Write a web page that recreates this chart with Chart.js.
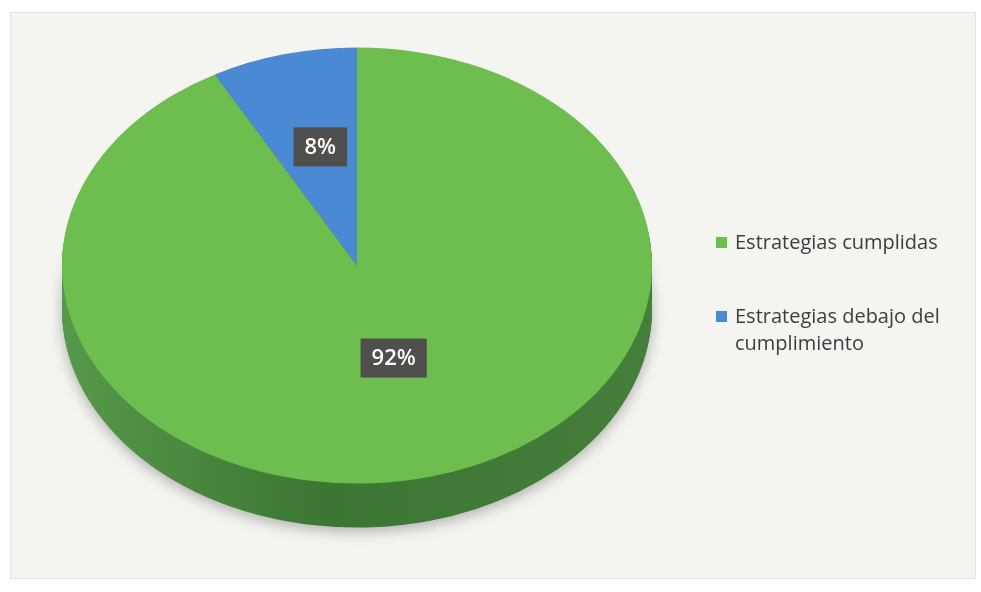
<!DOCTYPE html>
<html>
<head>
<meta charset="utf-8">
<script src="https://cdn.jsdelivr.net/npm/chart.js@4.4.1/dist/chart.umd.min.js"></script>
<style>
  body { margin: 0; background: #fff; width: 981px; height: 592px; overflow: hidden; font-family: "Open Sans", sans-serif; }
  #card { position: absolute; left: 10px; top: 12px; width: 964px; height: 565px; background: #f4f4f1; border: 1px solid #e4e4e0; }
  #myChartEstrategias { position: absolute; left: 0; top: 0; }
  #legend { position: absolute; left: 716px; top: 228px; width: 260px; color: #3d3d3d; font-size: 20px; line-height: 27px; }
  .item { position: relative; padding-left: 19px; width: 240px; margin-bottom: 47px; }
  .box { position: absolute; left: 0; top: 9px; width: 11px; height: 11px; }
</style>
</head>
<body>
<div id="card"></div>
<canvas id="myChartEstrategias" width="981" height="592"></canvas>
<div id="legend"></div>
<script>
const categories = ['Estrategias cumplidas', 'Estrategias debajo del cumplimiento']
const percentages = [92, 8]
const sliceColors = ['#6dbd4f', '#4a8ad4']

// the pie is drawn as a flattened, tilted disc
const STRETCH_X = 295 / 218
const DEPTH = 44

const pie3d = {
    id: 'pie3d',
    beforeDatasetsDraw(chart) {
        const ctx = chart.ctx
        const arcs = chart.getDatasetMeta(0).data
        const cx = arcs[0].x, cy = arcs[0].y
        ctx.save()
        ctx.translate(cx, cy)
        ctx.scale(STRETCH_X, 1)
        ctx.translate(-cx, -cy)

        const r = arcs[0].outerRadius
        const side = ctx.createLinearGradient(cx - r, 0, cx + r, 0)
        side.addColorStop(0, '#57994a')
        side.addColorStop(0.45, '#3b7632')
        side.addColorStop(1, '#467f3b')

        for (let d = DEPTH; d >= 1; d--) {
            ctx.save()
            ctx.translate(0, d)
            if (d == DEPTH) {
                ctx.shadowColor = 'rgba(0,0,0,0.28)'
                ctx.shadowBlur = 14
                ctx.shadowOffsetY = 4
            }
            arcs.forEach(arc => {
                const old = arc.options.backgroundColor
                arc.options.backgroundColor = side
                arc.draw(ctx)
                arc.options.backgroundColor = old
            })
            ctx.restore()
        }
    },
    afterDatasetsDraw(chart) {
        const ctx = chart.ctx
        ctx.restore()

        // percentage boxes
        const arcs = chart.getDatasetMeta(0).data
        const cx = arcs[0].x
        ctx.save()
        ctx.font = '600 22px "Open Sans"'
        ctx.textAlign = 'center'
        ctx.textBaseline = 'middle'
        arcs.forEach((arc, i) => {
            const p = arc.getCenterPoint()
            const x = cx + (p.x - cx) * STRETCH_X
            const y = p.y - 13
            const txt = chart.data.datasets[0].data[i] + '%'
            const w = ctx.measureText(txt).width + 22
            ctx.fillStyle = '#4f4f4d'
            ctx.fillRect(x - w / 2, y - 19.5, w, 39)
            ctx.fillStyle = '#ffffff'
            ctx.fillText(txt, x, y + 1)
        })
        ctx.restore()
    }
}

var ctx = document.getElementById('myChartEstrategias')
var myChart = new Chart(ctx, {
    type: 'pie',
    data: {
        labels: categories,
        datasets: [{
            data: percentages,
            backgroundColor: sliceColors,
            borderWidth: 0,
            hoverOffset: 0,
            clip: false
        }]
    },
    options: {
        responsive: false,
        animation: false,
        radius: 218,
        layout: { padding: { left: 0, right: 267, top: 0, bottom: 61 } },
        plugins: {
            legend: { display: false },
            tooltip: { enabled: false }
        }
    },
    plugins: [pie3d]
})

// legend next to the pie
const legend = document.getElementById('legend')
myChart.data.labels.forEach((label, i) => {
    const item = document.createElement('div')
    item.className = 'item'
    item.innerHTML = '<span class="box" style="background:' + sliceColors[i] + '"></span>' + label
    legend.appendChild(item)
})
</script>
</body>
</html>
